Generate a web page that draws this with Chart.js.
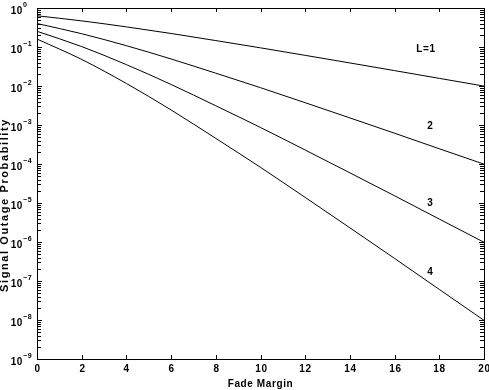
<!DOCTYPE html>
<html lang="en">
<head>
    <meta charset="UTF-8">
    <title>Signal Outage Probability</title>
    <script src="https://cdn.jsdelivr.net/npm/chart.js"></script>
    <style>
        html, body { margin: 0; padding: 0; background: #fff; overflow: hidden; }
        canvas { display: block; }
    </style>
</head>
<body>
    <canvas id="chart" width="489" height="390"></canvas>

    <script>
        // values
        const fadeMargin = [0, 2, 4, 6, 8, 10, 12, 14, 16, 18, 20];
        const outageL1 = [0.632, 0.468, 0.328, 0.222, 0.146, 0.0952, 0.0611, 0.039, 0.0248, 0.0157, 0.00995];
        const outageL2 = [0.4, 0.219, 0.108, 0.0493, 0.0213, 0.00906, 0.00373, 0.00152, 0.000615, 0.000246, 0.000099];
        const outageL3 = [0.253, 0.1025, 0.0353, 0.01094, 0.00311, 0.000863, 0.000228, 0.0000593, 0.0000153, 0.00000387, 0.000000985];
        const outageL4 = [0.16, 0.048, 0.0116, 0.00243, 0.000454, 0.0000821, 0.0000139, 0.00000231, 0.000000379, 0.0000000608, 0.0000000098];

        const xTicks = [0, 2, 4, 6, 8, 10, 12, 14, 16, 18, 20];
        const yExponents = [0, -1, -2, -3, -4, -5, -6, -7, -8, -9];

        const curveLabels = ['L=1', '2', '3', '4'];
        const curveLabelX = [17.4, 17.6, 17.6, 17.6];
        const curveLabelY = [0.0889, 0.000916, 0.0000097, 0.00000017];

        const series = [outageL1, outageL2, outageL3, outageL4];
        const FONT = 'bold 10px "Liberation Sans", Arial, sans-serif';
        const SUP_FONT = 'bold 7px "Liberation Sans", Arial, sans-serif';

        const axesPlugin = {
            id: 'axesPlugin',
            afterDraw(chart) {
                const ctx = chart.ctx;
                const area = chart.chartArea;
                const xs = chart.scales.x;
                const ys = chart.scales.y;
                ctx.save();
                ctx.strokeStyle = '#000';
                ctx.fillStyle = '#000';
                ctx.lineWidth = 1;
                ctx.letterSpacing = '0.6px';

                // frame
                ctx.strokeRect(Math.round(area.left) + 0.5, Math.round(area.top) + 0.5,
                    Math.round(area.right - area.left), Math.round(area.bottom - area.top));

                // x ticks, inside top and bottom
                ctx.font = FONT;
                ctx.textAlign = 'center';
                ctx.textBaseline = 'middle';
                xTicks.forEach(v => {
                    const px = Math.round(xs.getPixelForValue(v)) + 0.5;
                    ctx.beginPath();
                    ctx.moveTo(px, area.bottom);
                    ctx.lineTo(px, area.bottom - 4);
                    ctx.moveTo(px, area.top);
                    ctx.lineTo(px, area.top + 4);
                    ctx.stroke();
                    ctx.fillText(String(v), px, area.bottom + 10);
                });

                // y ticks, inside left and right
                yExponents.forEach(e => {
                    const py = Math.round(ys.getPixelForValue(Math.pow(10, e))) + 0.5;
                    ctx.beginPath();
                    ctx.moveTo(area.left, py);
                    ctx.lineTo(area.left + 5, py);
                    ctx.moveTo(area.right, py);
                    ctx.lineTo(area.right - 5, py);
                    ctx.stroke();
                    if (e > -9) {
                        for (let m = 2; m <= 9; m++) {
                            const pm = Math.round(ys.getPixelForValue(m * Math.pow(10, e - 1))) + 0.5;
                            ctx.beginPath();
                            ctx.moveTo(area.left, pm);
                            ctx.lineTo(area.left + 4, pm);
                            ctx.moveTo(area.right, pm);
                            ctx.lineTo(area.right - 4, pm);
                            ctx.stroke();
                        }
                    }
                    // label 10^e
                    ctx.textBaseline = 'middle';
                    ctx.font = FONT;
                    ctx.textAlign = 'right';
                    ctx.fillText('10', area.left - 14, py + 3);
                    ctx.font = SUP_FONT;
                    ctx.textAlign = 'left';
                    ctx.fillText(e === 0 ? '0' : '\u2212' + String(-e), area.left - 14, py - 3);
                });

                // axis titles
                ctx.font = FONT;
                ctx.textAlign = 'center';
                ctx.textBaseline = 'middle';
                ctx.fillText('Fade Margin', (area.left + area.right) / 2, 384);
                ctx.save();
                ctx.translate(5, 205);
                ctx.rotate(-Math.PI / 2);
                ctx.font = 'bold 11px "Liberation Sans", Arial, sans-serif';
                ctx.letterSpacing = '1.6px';
                ctx.fillText('Signal Outage Probability', 0, 0);
                ctx.restore();

                // curve labels
                ctx.font = FONT;
                ctx.letterSpacing = '0.6px';
                curveLabels.forEach((t, i) => {
                    ctx.fillText(t, xs.getPixelForValue(curveLabelX[i]), ys.getPixelForValue(curveLabelY[i]));
                });
                ctx.restore();
            }
        };

        new Chart(document.querySelector('#chart'), {
            type: 'line',
            data: {
                datasets: series.map((s, i) => ({
                    label: curveLabels[i],
                    data: fadeMargin.map((x, j) => ({ x: x, y: s[j] })),
                    borderColor: '#000',
                    borderWidth: 1,
                    pointRadius: 0,
                    fill: false,
                    cubicInterpolationMode: 'monotone'
                }))
            },
            options: {
                responsive: false,
                animation: false,
                maintainAspectRatio: false,
                layout: { padding: { left: 37, right: 5, top: 8, bottom: 31 } },
                plugins: { legend: { display: false }, tooltip: { enabled: false } },
                scales: {
                    x: { type: 'linear', min: 0, max: 20, display: false },
                    y: { type: 'logarithmic', min: 1e-9, max: 1, display: false }
                }
            },
            plugins: [axesPlugin]
        });
    </script>
</body>
</html>
